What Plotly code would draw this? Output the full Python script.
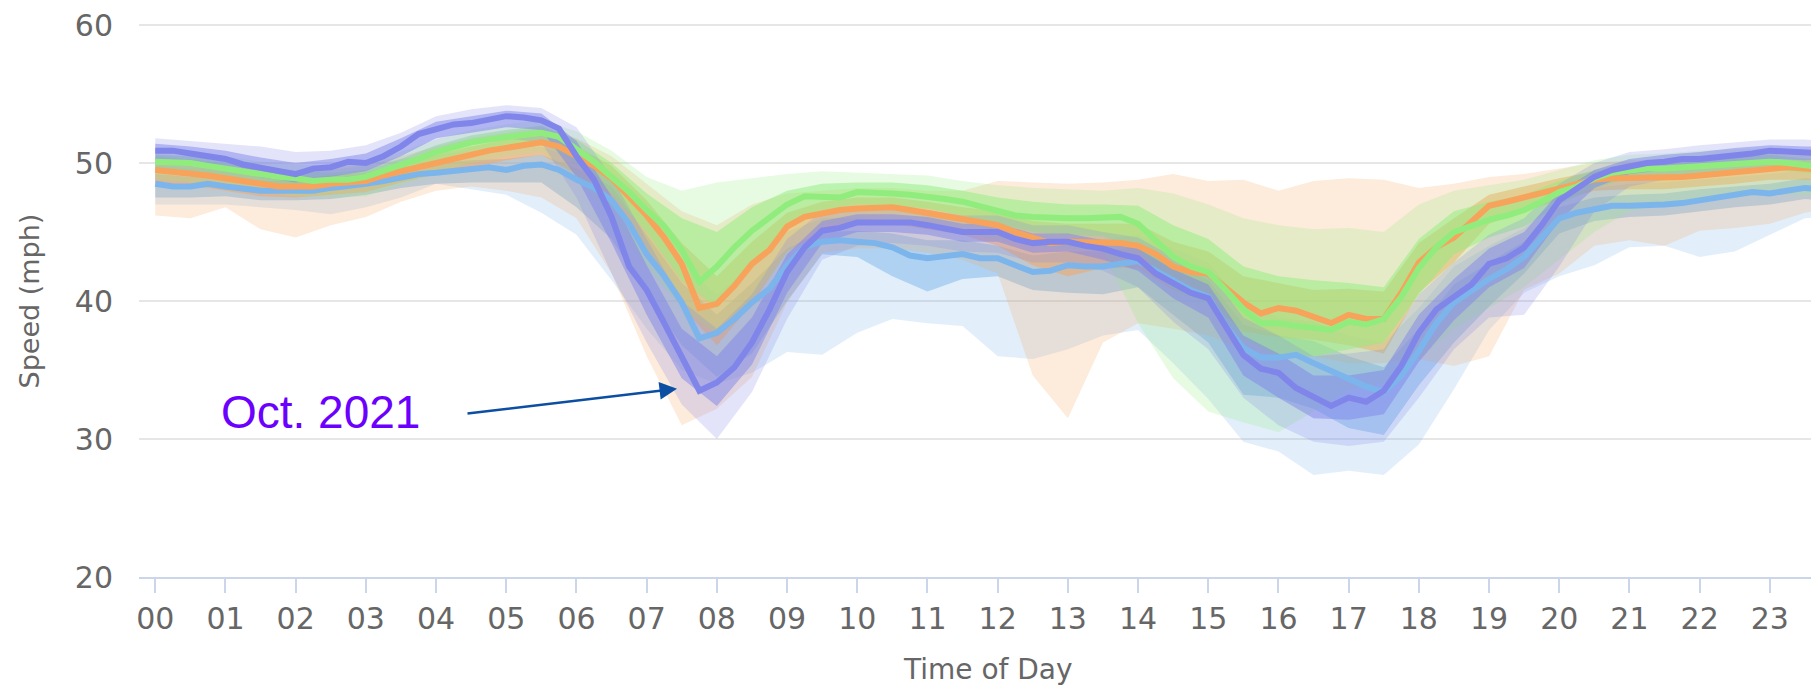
import plotly.graph_objects as go

# ---------------- data ----------------
line_hours = [i * 0.25 for i in range(96)]
band_hours = [i * 0.5 for i in range(48)] + [23.75]
tick_hours = list(range(24))
tick_labels = ["00", "01", "02", "03", "04", "05", "06", "07", "08", "09", "10", "11",
               "12", "13", "14", "15", "16", "17", "18", "19", "20", "21", "22", "23"]
y_ticks = [20, 30, 40, 50, 60]

# mean speed lines, every 15 minutes
purple_mean = [
    50.9, 50.9, 50.7, 50.5, 50.3, 49.9, 49.7, 49.5, 49.2, 49.6, 49.7, 50.1, 50.0, 50.5, 51.2, 52.1,
    52.5, 52.8, 52.9, 53.2, 53.4, 53.3, 53.1, 52.5, 50.5, 48.8, 46.1, 42.5, 40.8, 38.4, 36.0, 33.5,
    34.1, 35.2, 37.0, 39.4, 42.1, 43.9, 45.1, 45.3, 45.7, 45.7, 45.7, 45.7, 45.5, 45.2, 45.0, 45.0,
    45.0, 44.5, 44.2, 44.3, 44.3, 44.0, 43.8, 43.4, 43.1, 42.0, 41.3, 40.6, 40.2, 38.2, 36.1, 35.1,
    34.8, 33.7, 33.0, 32.4, 33.0, 32.7, 33.5, 35.3, 37.7, 39.4, 40.3, 41.2, 42.7, 43.1, 43.9, 45.5,
    47.3, 48.2, 49.0, 49.5, 49.8, 50.0, 50.1, 50.3, 50.3, 50.4, 50.6, 50.7, 50.9, 50.8, 50.7, 50.7,
]
blue_mean = [
    48.5, 48.3, 48.3, 48.5, 48.3, 48.1, 48.0, 48.0, 48.0, 48.0, 48.2, 48.3, 48.5, 48.7, 49.0, 49.2,
    49.3, 49.4, 49.5, 49.7, 49.5, 49.8, 49.9, 49.5, 48.8, 48.2, 47.3, 45.6, 43.4, 41.8, 39.9, 37.3,
    37.7, 38.7, 39.9, 40.9, 42.6, 43.9, 44.3, 44.4, 44.3, 44.2, 43.9, 43.3, 43.1, 43.2, 43.4, 43.1,
    43.1, 42.6, 42.1, 42.2, 42.6, 42.5, 42.5, 42.7, 42.9, 42.2, 41.5, 40.8, 40.3, 38.2, 36.6, 35.9,
    35.9, 36.1, 35.5, 34.9, 34.4, 33.8, 33.4, 34.6, 36.4, 38.4, 39.9, 40.8, 41.6, 42.3, 43.2, 44.6,
    46.0, 46.4, 46.7, 46.9, 46.9, 46.9, 47.0, 47.1, 47.3, 47.4, 47.6, 47.9, 47.8, 48.0, 48.2, 48.1,
]
orange_mean = [
    49.5, 49.4, 49.3, 49.1, 48.9, 48.7, 48.4, 48.3, 48.3, 48.3, 48.5, 48.6, 48.7, 49.1, 49.4, 49.8,
    50.0, 50.3, 50.6, 50.9, 51.1, 51.3, 51.5, 51.2, 50.5, 49.8, 48.9, 47.5, 46.2, 44.6, 42.7, 39.5,
    39.8, 41.1, 42.7, 43.7, 45.4, 46.1, 46.4, 46.6, 46.7, 46.8, 46.8, 46.6, 46.4, 46.2, 46.0, 45.7,
    45.5, 45.0, 44.6, 44.2, 44.3, 44.3, 44.3, 44.2, 44.0, 43.4, 42.5, 42.1, 42.0, 40.9, 39.9, 39.1,
    39.5, 39.3, 38.9, 38.4, 39.0, 38.7, 38.7, 40.6, 42.8, 43.9, 44.6, 45.7, 46.9, 47.2, 47.5, 47.9,
    48.2, 48.4, 48.8, 48.9, 48.9, 48.9, 48.9, 49.0, 49.1, 49.2, 49.3, 49.5, 49.6, 49.7, 49.6, 49.5,
]
green_mean = [
    50.1, 50.1, 50.0, 49.8, 49.6, 49.3, 49.1, 49.0, 48.9, 48.7, 48.8, 48.8, 49.0, 49.4, 49.8, 50.3,
    50.8, 51.2, 51.5, 51.7, 51.9, 52.1, 52.2, 51.9, 51.0, 50.1, 49.0, 47.9, 46.6, 45.4, 43.7, 41.4,
    42.5, 43.9, 45.1, 46.1, 47.0, 47.6, 47.6, 47.5, 47.9, 47.9, 47.8, 47.7, 47.6, 47.4, 47.2, 46.9,
    46.6, 46.2, 46.1, 46.0, 46.0, 46.0, 46.0, 46.1, 45.6, 44.4, 43.2, 42.5, 42.1, 40.8, 39.4, 38.4,
    38.4, 38.2, 38.1, 37.9, 38.5, 38.3, 38.7, 40.3, 42.4, 43.9, 45.0, 45.5, 45.9, 46.2, 46.6, 47.2,
    47.9, 48.3, 48.9, 49.3, 49.5, 49.6, 49.6, 49.7, 49.8, 49.9, 50.0, 50.0, 50.1, 50.0, 49.8, 49.7,
]

# ranges (every 30 minutes, plus 23:45)
purple_outer_hi = [
    51.8, 51.6, 51.4, 51.2, 50.8, 50.9, 51.3, 52.2,
    53.4, 53.9, 54.2, 54.0, 52.6, 49.0, 44.5, 40.0,
    38.0, 40.5, 44.5, 46.5, 46.8, 46.8, 46.6, 46.2,
    46.2, 45.5, 45.5, 45.0, 44.6, 43.2, 42.2, 38.8,
    37.5, 36.0, 36.2, 36.5, 40.5, 42.8, 44.8, 46.0,
    48.5, 50.0, 50.8, 51.0, 51.3, 51.5, 51.7, 51.7,
    51.6]
purple_outer_lo = [
    49.3, 49.2, 49.0, 48.6, 48.2, 48.5, 48.8, 49.8,
    51.0, 51.5, 51.8, 51.5, 47.5, 42.0, 37.0, 32.5,
    30.0, 33.4, 38.7, 43.0, 44.0, 44.2, 44.0, 43.6,
    43.5, 42.8, 42.8, 42.2, 41.0, 38.5, 36.5, 33.0,
    31.0, 29.8, 29.5, 29.8, 33.0, 36.5, 38.8, 39.0,
    42.5, 46.5, 48.3, 48.8, 49.2, 49.5, 49.8, 49.8,
    49.8]
purple_inner_hi = [
    51.4, 51.2, 50.9, 50.4, 50.0, 50.3, 50.7, 51.8,
    53.0, 53.4, 53.8, 53.6, 51.6, 47.6, 42.6, 38.0,
    36.0, 38.8, 43.4, 45.8, 46.3, 46.3, 46.1, 45.6,
    45.6, 44.9, 44.9, 44.4, 43.8, 42.3, 41.2, 37.5,
    36.2, 34.6, 34.6, 35.0, 39.0, 41.6, 43.8, 45.0,
    47.9, 49.5, 50.3, 50.6, 50.8, 51.1, 51.3, 51.2,
    51.2]
purple_inner_lo = [
    50.2, 50.0, 49.6, 49.0, 48.6, 49.0, 49.4, 50.5,
    51.8, 52.2, 52.6, 52.4, 49.0, 44.2, 39.0, 34.4,
    32.4, 35.4, 40.6, 44.2, 45.0, 45.0, 44.8, 44.3,
    44.3, 43.5, 43.6, 43.0, 42.2, 40.2, 38.8, 34.6,
    33.0, 31.5, 31.4, 31.8, 35.6, 38.6, 41.0, 42.4,
    45.8, 48.2, 49.2, 49.5, 49.7, 50.0, 50.3, 50.2,
    50.2]

blue_outer_hi = [
    49.8, 49.6, 49.6, 49.3, 49.3, 49.5, 49.8, 50.3,
    50.6, 50.9, 51.0, 51.2, 50.3, 49.0, 46.0, 42.5,
    40.5, 42.5, 45.0, 46.0, 46.0, 45.8, 45.3, 45.2,
    44.8, 44.3, 44.5, 44.5, 44.8, 43.8, 42.8, 39.8,
    38.8, 38.5, 37.5, 37.0, 39.5, 42.5, 44.0, 45.3,
    47.5, 48.2, 48.5, 48.6, 48.8, 49.0, 49.2, 49.5,
    49.4]
blue_outer_lo = [
    47.0, 47.0, 47.0, 46.8, 46.6, 46.3, 46.8, 47.5,
    48.5, 48.1, 47.7, 46.4, 44.8, 41.5, 38.0, 35.0,
    34.0, 34.8, 36.3, 36.1, 37.7, 38.7, 38.4, 38.2,
    36.0, 35.8, 36.5, 37.5, 37.9, 35.5, 32.9, 29.8,
    29.1, 27.4, 27.7, 27.4, 29.6, 33.6, 37.9, 40.6,
    41.8, 42.6, 43.9, 44.0, 43.2, 43.6, 44.8, 46.0,
    46.1]
blue_inner_hi = [
    49.2, 49.0, 49.0, 48.7, 48.7, 48.9, 49.2, 49.7,
    50.0, 50.2, 50.3, 50.6, 49.6, 48.3, 44.8, 41.3,
    39.0, 41.3, 43.8, 45.0, 45.1, 44.9, 44.4, 44.4,
    44.0, 43.3, 43.6, 43.6, 43.9, 42.6, 41.5, 38.3,
    37.5, 37.1, 36.0, 35.2, 38.0, 41.2, 42.8, 44.3,
    46.8, 47.5, 47.7, 47.8, 48.1, 48.3, 48.5, 48.9,
    48.8]
blue_inner_lo = [
    47.5, 47.5, 47.6, 47.3, 47.3, 47.4, 47.7, 48.2,
    48.5, 48.6, 48.6, 48.6, 46.8, 44.5, 40.5, 36.8,
    34.5, 36.2, 40.0, 43.4, 43.2, 41.8, 40.7, 41.6,
    41.8, 40.8, 40.6, 40.5, 41.0, 39.0, 37.0, 33.2,
    33.0, 32.2, 30.8, 30.3, 33.9, 37.0, 39.6, 42.0,
    44.9, 45.8, 46.1, 46.2, 46.5, 46.8, 47.0, 47.4,
    47.3]

orange_outer_hi = [
    50.5, 50.3, 50.0, 49.6, 49.5, 49.7, 49.9, 50.5,
    51.2, 51.8, 52.2, 52.6, 51.8, 50.5, 48.5, 46.5,
    45.5, 47.0, 47.8, 48.0, 48.2, 48.2, 48.0, 48.0,
    48.7, 48.6, 48.5, 48.6, 48.8, 49.2, 48.7, 48.8,
    48.0, 48.7, 48.9, 48.8, 48.2, 48.5, 49.0, 49.2,
    49.6, 50.0, 50.2, 50.2, 50.4, 50.6, 50.8, 50.8,
    50.7]
orange_outer_lo = [
    46.2, 46.0, 46.8, 45.2, 44.6, 45.5, 46.1, 47.2,
    48.0, 48.3, 48.0, 47.5, 46.0, 42.0, 36.0, 31.0,
    32.2, 34.5, 39.9, 43.5, 43.8, 43.8, 43.5, 43.0,
    42.0, 34.6, 31.5, 37.0, 38.4, 38.0, 37.5, 36.5,
    36.0, 36.0, 35.5, 35.5, 35.8, 35.3, 36.0, 40.8,
    42.0, 44.0, 44.4, 44.0, 45.1, 45.3, 45.6, 46.4,
    46.6]
orange_inner_hi = [
    50.0, 49.8, 49.4, 49.0, 48.9, 49.1, 49.3, 50.0,
    50.6, 51.2, 51.7, 52.1, 51.2, 49.8, 47.3, 44.2,
    41.8, 44.3, 46.4, 47.2, 47.5, 47.5, 47.2, 46.8,
    46.5, 45.8, 45.6, 45.6, 45.6, 44.3, 43.6, 41.8,
    41.3, 40.8, 40.9, 40.7, 44.2, 46.0, 47.7, 48.3,
    48.9, 49.4, 49.5, 49.5, 49.7, 49.9, 50.2, 50.2,
    50.1]
orange_inner_lo = [
    48.6, 48.4, 48.0, 47.6, 47.5, 47.7, 47.9, 48.6,
    49.2, 49.7, 50.2, 50.6, 49.2, 47.0, 43.6, 39.6,
    36.8, 39.8, 43.6, 45.0, 45.5, 45.6, 45.2, 44.8,
    44.0, 42.6, 41.8, 42.4, 42.4, 40.8, 40.0, 37.8,
    37.4, 37.2, 36.8, 36.2, 40.6, 42.8, 45.6, 46.5,
    47.3, 48.0, 48.1, 48.1, 48.3, 48.5, 48.8, 48.8,
    48.7]

green_outer_hi = [
    51.0, 50.9, 50.5, 50.1, 49.9, 49.8, 50.0, 50.8,
    51.7, 52.4, 52.8, 53.1, 52.3, 50.9, 49.0, 48.0,
    48.6, 48.9, 49.2, 49.4, 49.3, 49.2, 49.1, 48.7,
    48.4, 48.2, 48.1, 48.0, 48.2, 47.8, 47.0, 46.0,
    45.5, 45.2, 45.3, 45.0, 47.0, 48.0, 48.4, 48.8,
    49.5, 50.2, 50.6, 50.7, 50.9, 51.0, 51.1, 50.9,
    50.8]
green_outer_lo = [
    48.8, 48.6, 48.3, 47.9, 47.6, 47.5, 47.6, 48.4,
    49.3, 50.0, 50.5, 50.8, 49.0, 46.0, 42.5, 39.5,
    37.5, 40.0, 43.5, 45.5, 45.8, 45.6, 45.4, 45.0,
    44.5, 44.0, 43.8, 43.6, 38.4, 34.4, 32.0, 31.2,
    30.5, 32.0, 33.5, 34.0, 35.8, 38.0, 39.5, 41.0,
    43.0, 45.0, 46.5, 47.0, 47.3, 47.5, 47.8, 47.7,
    47.6]
green_inner_hi = [
    50.6, 50.5, 50.1, 49.6, 49.4, 49.3, 49.5, 50.3,
    51.3, 52.0, 52.4, 52.7, 51.7, 50.0, 47.8, 46.0,
    45.0, 46.8, 48.0, 48.5, 48.6, 48.6, 48.4, 48.0,
    47.5, 47.2, 47.0, 47.0, 46.9, 45.5, 44.5, 42.5,
    41.8, 41.5, 41.3, 41.0, 44.5, 46.5, 47.2, 47.7,
    48.7, 49.5, 50.0, 50.1, 50.3, 50.5, 50.6, 50.3,
    50.2]
green_inner_lo = [
    49.5, 49.4, 49.0, 48.5, 48.3, 48.2, 48.4, 49.2,
    50.2, 50.9, 51.3, 51.5, 50.0, 47.8, 45.0, 41.5,
    39.5, 42.5, 45.5, 46.6, 47.0, 46.9, 46.7, 46.2,
    45.6, 45.0, 44.8, 44.7, 43.8, 40.8, 39.8, 37.2,
    36.0, 36.0, 36.5, 37.0, 40.5, 43.4, 44.6, 45.4,
    47.0, 48.2, 48.9, 49.0, 49.2, 49.4, 49.5, 49.3,
    49.2]

# ---------------- figure ----------------
series = [
    dict(name="blue", rgb=(124, 181, 236), mean=blue_mean,
         o_lo=blue_outer_lo, o_hi=blue_outer_hi, i_lo=blue_inner_lo, i_hi=blue_inner_hi),
    dict(name="orange", rgb=(247, 163, 92), mean=orange_mean,
         o_lo=orange_outer_lo, o_hi=orange_outer_hi, i_lo=orange_inner_lo, i_hi=orange_inner_hi),
    dict(name="green", rgb=(144, 237, 125), mean=green_mean,
         o_lo=green_outer_lo, o_hi=green_outer_hi, i_lo=green_inner_lo, i_hi=green_inner_hi),
    dict(name="purple", rgb=(128, 133, 233), mean=purple_mean,
         o_lo=purple_outer_lo, o_hi=purple_outer_hi, i_lo=purple_inner_lo, i_hi=purple_inner_hi),
]

OUTER_ALPHA = 0.22
INNER_ALPHA = 0.5

fig = go.Figure()


def add_band(lo, hi, rgb, alpha):
    r, g, b = rgb
    fig.add_trace(go.Scatter(x=band_hours, y=lo, mode="lines", line=dict(width=0),
                             hoverinfo="skip", showlegend=False))
    fig.add_trace(go.Scatter(x=band_hours, y=hi, mode="lines", line=dict(width=0),
                             fill="tonexty", fillcolor=f"rgba({r},{g},{b},{alpha})",
                             hoverinfo="skip", showlegend=False))


for s in series:
    add_band(s["o_lo"], s["o_hi"], s["rgb"], OUTER_ALPHA)
    add_band(s["i_lo"], s["i_hi"], s["rgb"], INNER_ALPHA)

for s in series:
    r, g, b = s["rgb"]
    fig.add_trace(go.Scatter(x=line_hours, y=s["mean"], mode="lines",
                             line=dict(color=f"rgb({r},{g},{b})", width=6),
                             name=s["name"], showlegend=False))

# The page body has an 8px margin, so the figure is shifted by 8px;
# sizes/margins below compensate so the plot area lands where it should.
fig.update_layout(
    width=1811, height=684,
    margin=dict(l=131, r=0, t=12, b=115),
    plot_bgcolor="white", paper_bgcolor="white",
    showlegend=False,
    font=dict(family="DejaVu Sans", color="#666666"),
)
fig.update_xaxes(
    range=[-0.232, 23.70], tickmode="array", tickvals=tick_hours, ticktext=tick_labels,
    ticks="outside", ticklen=14, tickwidth=2, tickcolor="#ccd6eb",
    showline=True, linecolor="#ccd6eb", linewidth=2,
    showgrid=False, zeroline=False,
    tickfont=dict(family="DejaVu Sans", size=30, color="#666666"),
)
fig.update_yaxes(
    range=[20, 60.08], tickmode="array", tickvals=y_ticks,
    showgrid=True, gridcolor="#e6e6e6", gridwidth=1.5,
    zeroline=False, showline=False,
    ticks="outside", ticklen=19, tickcolor="rgba(0,0,0,0)",
    ticklabeloverflow="allow",
    tickfont=dict(family="DejaVu Sans", size=30, color="#666666"),
)

# axis titles
fig.add_annotation(text="Speed (mph)", xref="paper", yref="paper",
                   x=-0.0649, y=0.5, xanchor="center", yanchor="middle",
                   textangle=-90, showarrow=False,
                   font=dict(family="DejaVu Sans", size=27, color="#666666"))
fig.add_annotation(text="Time of Day", xref="paper", yref="paper",
                   x=0.5054, y=-0.167, xanchor="center", yanchor="middle",
                   showarrow=False,
                   font=dict(family="DejaVu Sans", size=28, color="#666666"))

# callout
fig.add_annotation(text="Oct. 2021", x=2.36, y=31.95, xref="x", yref="y",
                   xanchor="center", yanchor="middle", showarrow=False,
                   font=dict(family="Liberation Sans", size=46, color="#6c00ff"))
fig.add_annotation(text="", x=7.432, y=33.65, xref="x", yref="y",
                   showarrow=True, ax=-211, ay=25, arrowhead=2, arrowsize=1.4,
                   arrowwidth=2.5, arrowcolor="#0b4ea2")

fig.write_html("out.html")
